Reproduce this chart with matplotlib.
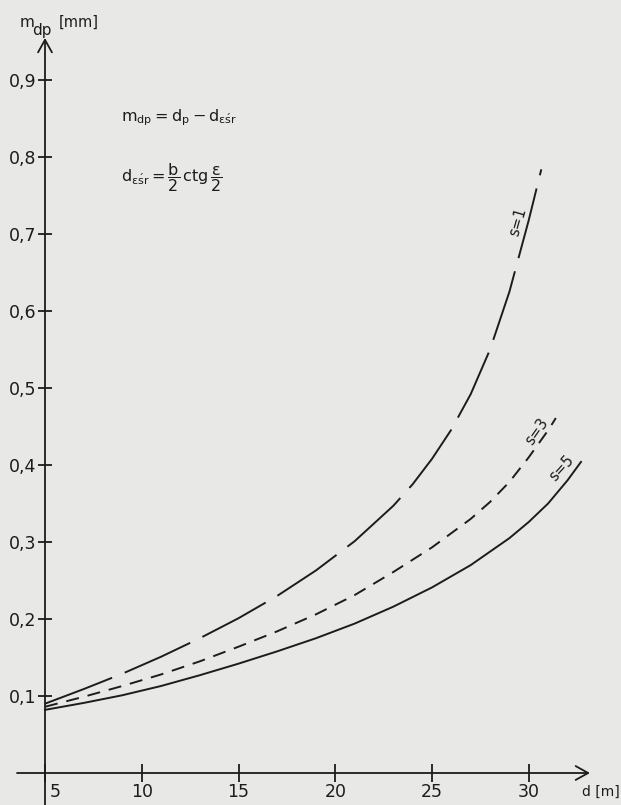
import matplotlib.pyplot as plt
import matplotlib.transforms as mtransforms

# curves: d [m] -> m_dp [mm]
d_s1 = [5, 7, 9, 11, 13, 15, 17, 19, 21, 23, 24, 25, 26, 27, 28, 29, 30, 30.65]
m_s1 = [0.090, 0.109, 0.129, 0.151, 0.175, 0.201, 0.230, 0.263, 0.301, 0.347,
        0.375, 0.408, 0.446, 0.492, 0.550, 0.625, 0.718, 0.784]

d_s3 = [5, 7, 9, 11, 13, 15, 17, 19, 21, 23, 25, 27, 28, 29, 30, 31, 31.4]
m_s3 = [0.086, 0.099, 0.113, 0.128, 0.145, 0.164, 0.184, 0.206, 0.231, 0.261,
        0.293, 0.330, 0.352, 0.378, 0.410, 0.445, 0.461]

d_s5 = [5, 7, 9, 11, 13, 15, 17, 19, 21, 23, 25, 27, 29, 30, 31, 32, 32.7]
m_s5 = [0.082, 0.091, 0.101, 0.113, 0.127, 0.142, 0.158, 0.175, 0.194, 0.216,
        0.241, 0.270, 0.305, 0.326, 0.350, 0.380, 0.404]

xticks = [5, 10, 15, 20, 25, 30]
yticks = [0.1, 0.2, 0.3, 0.4, 0.5, 0.6, 0.7, 0.8, 0.9]
ytick_labels = ['0,1', '0,2', '0,3', '0,4', '0,5', '0,6', '0,7', '0,8', '0,9']

bg = '#e8e8e6'
ink = '#1c1c1c'

fig = plt.figure(figsize=(6.21, 8.05), dpi=100, facecolor=bg)
ax = fig.add_axes([0, 0, 1, 1], facecolor=bg)

# pixel mapping: x=5 at px 45, 19.35 px per metre; y=0 at px 773, 770 px per mm
ax.set_xlim(5 - 45 / 19.35, 5 + (621 - 45) / 19.35)
ax.set_ylim(-(805 - 773) / 770, 773 / 770)

lw = 1.4
ax.plot(d_s1, m_s1, color=ink, lw=lw, ls=(0, (37, 7)))
ax.plot(d_s3, m_s3, color=ink, lw=lw, ls=(0, (6.7, 4.6)))
ax.plot(d_s5, m_s5, color=ink, lw=lw)

# axes with arrow heads
arr = dict(arrowstyle='->,head_length=0.9,head_width=0.5', lw=1.3, color=ink,
           shrinkA=0, shrinkB=0)
ax.annotate('', xy=(5 + (590 - 45) / 19.35, 0), xytext=(5 - 28 / 19.35, 0), arrowprops=arr)
ax.annotate('', xy=(5, (773 - 38) / 770), xytext=(5, -(805 - 773) / 770), arrowprops=arr)

for s in ax.spines.values():
    s.set_visible(False)
ax.spines['left'].set_position(('data', 5))
ax.spines['bottom'].set_position(('data', 0))

ax.set_xticks(xticks)
ax.set_xticklabels([str(v) for v in xticks])
ax.set_yticks(yticks)
ax.set_yticklabels(ytick_labels)
ax.tick_params(axis='y', direction='inout', length=10, width=1.3, color=ink,
               labelsize=12.5, labelcolor=ink, pad=1)
ax.tick_params(axis='x', direction='inout', length=13, width=1.3, color=ink,
               labelsize=12.5, labelcolor=ink, pad=1)
ax.tick_params(top=False, right=False)

# the "5" sits right of the vertical axis
lab5 = ax.get_xticklabels()[0]
lab5.set_transform(lab5.get_transform() +
                   mtransforms.ScaledTranslation(10 / 100, 0, fig.dpi_scale_trans))

def px(xp, yp):
    return 5 + (xp - 45) / 19.35, (773 - yp) / 770

# axis titles
ax.text(*px(582, 792), 'd [m]', fontsize=10, color=ink, ha='left', va='center')
ax.text(*px(20, 27), 'm', fontsize=11, color=ink, ha='left', va='baseline')
ax.text(*px(32, 35), 'dp', fontsize=11, color=ink, ha='left', va='baseline')
ax.text(*px(59, 27), '[mm]', fontsize=10.5, color=ink, ha='left', va='baseline')

# formulas
ax.text(*px(121, 121), r'$\mathregular{m_{dp}=d_p-d_{\varepsilon\acute{s}r}}$',
        fontsize=11.5, color=ink, ha='left', va='baseline')
ax.text(*px(121, 178), r'$\mathregular{d_{\varepsilon\acute{s}r}=\dfrac{b}{2}\,ctg\,\dfrac{\varepsilon}{2}}$',
        fontsize=11.5, color=ink, ha='left', va='center')

# curve labels
ax.text(*px(518, 222), 's=1', fontsize=10.5, color=ink, rotation=74,
        ha='center', va='center', rotation_mode='anchor')
ax.text(*px(537, 432), 's=3', fontsize=10.5, color=ink, rotation=55,
        ha='center', va='center', rotation_mode='anchor')
ax.text(*px(562, 468), 's=5', fontsize=10.5, color=ink, rotation=48,
        ha='center', va='center', rotation_mode='anchor')

fig.savefig('out.png', dpi=100, facecolor=bg)
